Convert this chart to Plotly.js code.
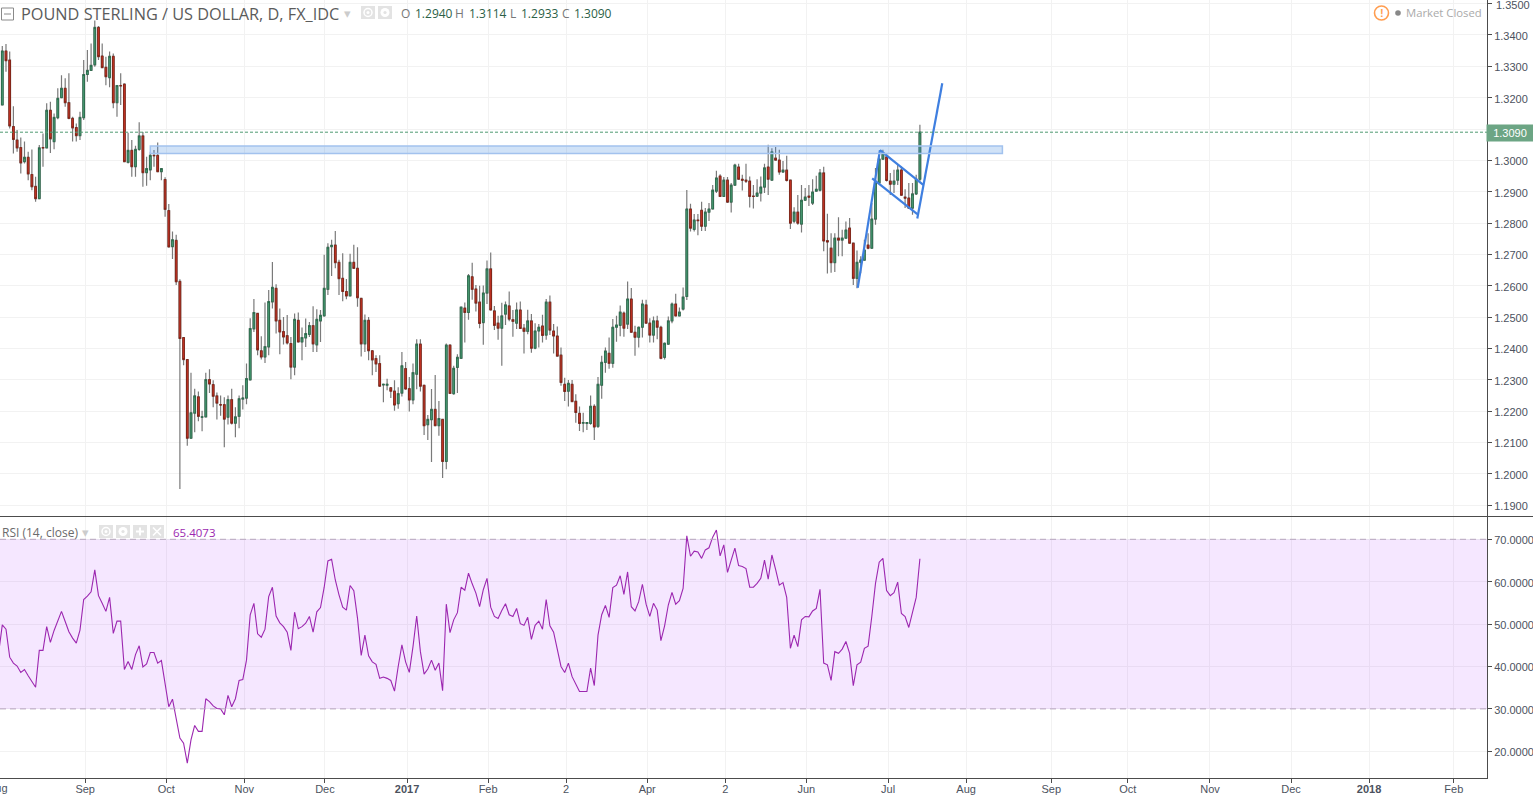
<!DOCTYPE html>
<html>
<head>
<meta charset="utf-8">
<script src="https://cdn.plot.ly/plotly-3.0.1.min.js"></script>
<style>html,body{margin:0;padding:0;background:#fff;overflow:hidden}#chart{width:1533px;height:797px}</style>
</head>
<body>
<div id="chart"></div>
<script>
// Daily GBP/USD bars
var openPrices = [
1.3177,1.3349,1.3320,1.3108,1.3065,1.3041,1.2996,1.3010,1.2955,1.2917,
1.2878,1.3041,1.3040,1.3160,1.3060,1.3136,1.3200,1.3230,1.3184,1.3134,
1.3105,1.3079,1.3136,1.3274,1.3287,1.3305,1.3424,1.3333,1.3297,1.3264,
1.3332,1.3184,1.3239,1.3243,1.2994,1.3032,1.2980,1.3035,1.3078,1.2961,
1.2970,1.3016,1.3016,1.2964,1.2939,1.2840,1.2725,1.2745,1.2614,1.2435,
1.2365,1.2114,1.2194,1.2246,1.2181,1.2182,1.2301,1.2285,1.2249,1.2221,
1.2221,1.2181,1.2237,1.2162,1.2184,1.2239,1.2242,1.2300,1.2463,1.2512,
1.2393,1.2373,1.2405,1.2549,1.2592,1.2490,1.2454,1.2441,1.2416,1.2341,
1.2490,1.2421,1.2434,1.2445,1.2473,1.2412,1.2488,1.2504,1.2589,1.2725,
1.2730,1.2675,1.2624,1.2582,1.2568,1.2675,1.2656,1.2560,1.2415,1.2490,
1.2393,1.2368,1.2352,1.2284,1.2283,1.2275,1.2264,1.2224,1.2258,1.2336,
1.2272,1.2236,1.2318,1.2414,1.2283,1.2157,1.2173,1.2206,1.2154,1.2174,
1.2040,1.2411,1.2256,1.2340,1.2369,1.2529,1.2515,1.2629,1.2590,1.2548,
1.2483,1.2577,1.2654,1.2520,1.2481,1.2465,1.2510,1.2536,1.2492,1.2481,
1.2523,1.2465,1.2455,1.2488,1.2401,1.2456,1.2472,1.2443,1.2548,1.2456,
1.2440,1.2379,1.2286,1.2264,1.2286,1.2232,1.2193,1.2162,1.2161,1.2161,
1.2216,1.2152,1.2283,1.2356,1.2385,1.2353,1.2468,1.2474,1.2513,1.2478,
1.2558,1.2452,1.2436,1.2468,1.2539,1.2481,1.2443,1.2488,1.2468,1.2372,
1.2414,1.2488,1.2542,1.2504,1.2526,1.2566,1.2845,1.2780,1.2810,1.2841,
1.2790,1.2835,1.2845,1.2902,1.2950,1.2885,1.2937,1.2867,1.2921,1.2979,
1.2940,1.2937,1.2934,1.2886,1.2886,1.2896,1.2915,1.2979,1.2937,1.3007,
1.3001,1.2963,1.2969,1.2937,1.2806,1.2835,1.2797,1.2873,1.2886,1.2864,
1.2902,1.2905,1.2960,1.2744,1.2720,1.2674,1.2752,1.2746,1.2752,1.2784,
1.2736,1.2624,1.2675,1.2682,1.2730,1.2720,1.2813,1.2928,1.3004,1.3011,
1.2934,1.2924,1.2937,1.2969,1.2883,1.2880,1.2848,1.2893,1.2940];
var highPrices = [
1.3365,1.3371,1.3347,1.3173,1.3097,1.3073,1.3060,1.3028,1.3035,1.2948,
1.3049,1.3086,1.3182,1.3187,1.3150,1.3230,1.3272,1.3262,1.3278,1.3139,
1.3118,1.3155,1.3320,1.3352,1.3373,1.3446,1.3429,1.3373,1.3331,1.3347,
1.3341,1.3239,1.3278,1.3246,1.3088,1.3065,1.3047,1.3122,1.3091,1.3012,
1.3028,1.3033,1.3057,1.2974,1.2946,1.2861,1.2773,1.2763,1.2621,1.2435,
1.2365,1.2323,1.2272,1.2263,1.2202,1.2323,1.2334,1.2299,1.2260,1.2250,
1.2245,1.2250,1.2272,1.2213,1.2250,1.2283,1.2352,1.2497,1.2558,1.2512,
1.2439,1.2547,1.2587,1.2676,1.2605,1.2528,1.2501,1.2507,1.2437,1.2512,
1.2515,1.2467,1.2496,1.2485,1.2535,1.2525,1.2523,1.2699,1.2736,1.2747,
1.2775,1.2683,1.2704,1.2622,1.2702,1.2731,1.2723,1.2560,1.2509,1.2501,
1.2393,1.2379,1.2379,1.2286,1.2304,1.2275,1.2299,1.2277,1.2389,1.2357,
1.2309,1.2352,1.2430,1.2430,1.2283,1.2188,1.2271,1.2316,1.2233,1.2174,
1.2416,1.2414,1.2345,1.2382,1.2532,1.2547,1.2638,1.2674,1.2603,1.2600,
1.2601,1.2681,1.2706,1.2536,1.2505,1.2546,1.2550,1.2582,1.2523,1.2547,
1.2550,1.2478,1.2524,1.2510,1.2481,1.2478,1.2508,1.2558,1.2569,1.2478,
1.2470,1.2403,1.2307,1.2300,1.2300,1.2254,1.2215,1.2195,1.2164,1.2250,
1.2222,1.2309,1.2377,1.2403,1.2435,1.2494,1.2505,1.2537,1.2518,1.2614,
1.2593,1.2473,1.2470,1.2556,1.2556,1.2497,1.2502,1.2505,1.2473,1.2419,
1.2502,1.2547,1.2575,1.2531,1.2595,1.2906,1.2862,1.2829,1.2829,1.2868,
1.2848,1.2864,1.2922,1.2967,1.2956,1.2947,1.2947,1.2928,1.2989,1.2989,
1.2954,1.2989,1.2949,1.2922,1.2940,1.2949,1.2989,1.3050,1.3039,1.3043,
1.3034,1.2998,1.3015,1.2937,1.2851,1.2890,1.2922,1.2912,1.2922,1.2940,
1.2951,1.2973,1.2980,1.2830,1.2768,1.2768,1.2819,1.2779,1.2805,1.2816,
1.2736,1.2713,1.2694,1.2747,1.2768,1.2864,1.2976,1.3023,1.3034,1.3023,
1.2960,1.2970,1.2986,1.2981,1.2908,1.2928,1.2928,1.2954,1.3114];
var lowPrices = [
1.3177,1.3283,1.3102,1.3022,1.3028,1.2958,1.2990,1.2937,1.2905,1.2868,
1.2878,1.2980,1.3038,1.3024,1.3036,1.3131,1.3198,1.3171,1.3131,1.3060,
1.3060,1.3065,1.3129,1.3251,1.3286,1.3299,1.3320,1.3294,1.3240,1.3233,
1.3166,1.3139,1.3177,1.2996,1.2990,1.2948,1.2948,1.3031,1.2916,1.2919,
1.2937,1.2980,1.2962,1.2937,1.2820,1.2722,1.2686,1.2603,1.1952,1.2347,
1.2090,1.2114,1.2133,1.2168,1.2136,1.2181,1.2258,1.2213,1.2174,1.2186,
1.2085,1.2158,1.2158,1.2117,1.2146,1.2206,1.2222,1.2300,1.2453,1.2379,
1.2365,1.2354,1.2379,1.2528,1.2448,1.2382,1.2413,1.2413,1.2302,1.2315,
1.2421,1.2363,1.2405,1.2437,1.2389,1.2389,1.2421,1.2504,1.2571,1.2631,
1.2656,1.2571,1.2551,1.2557,1.2567,1.2654,1.2533,1.2375,1.2389,1.2363,
1.2315,1.2325,1.2279,1.2229,1.2267,1.2242,1.2202,1.2208,1.2247,1.2269,
1.2199,1.2222,1.2270,1.2263,1.2124,1.2108,1.2038,1.2154,1.2122,1.1987,
1.2015,1.2257,1.2253,1.2258,1.2369,1.2419,1.2492,1.2556,1.2518,1.2465,
1.2412,1.2542,1.2521,1.2459,1.2428,1.2345,1.2475,1.2487,1.2438,1.2462,
1.2464,1.2384,1.2446,1.2387,1.2398,1.2403,1.2419,1.2428,1.2443,1.2384,
1.2376,1.2281,1.2233,1.2215,1.2231,1.2163,1.2137,1.2133,1.2140,1.2157,
1.2108,1.2147,1.2240,1.2323,1.2336,1.2339,1.2422,1.2439,1.2438,1.2462,
1.2451,1.2377,1.2403,1.2435,1.2481,1.2419,1.2419,1.2430,1.2366,1.2365,
1.2412,1.2481,1.2502,1.2502,1.2521,1.2555,1.2773,1.2773,1.2761,1.2775,
1.2775,1.2807,1.2845,1.2896,1.2883,1.2883,1.2864,1.2834,1.2921,1.2938,
1.2904,1.2928,1.2850,1.2847,1.2883,1.2869,1.2896,1.2890,1.2937,1.3000,
1.2954,1.2960,1.2933,1.2781,1.2800,1.2795,1.2770,1.2871,1.2855,1.2858,
1.2901,1.2901,1.2710,1.2639,1.2642,1.2644,1.2694,1.2694,1.2752,1.2736,
1.2603,1.2592,1.2640,1.2680,1.2717,1.2720,1.2795,1.2928,1.3002,1.2933,
1.2890,1.2896,1.2922,1.2887,1.2848,1.2845,1.2827,1.2890,1.2933];
var closePrices = [
1.3349,1.3318,1.3110,1.3067,1.3040,1.2992,1.3010,1.2957,1.2916,1.2878,
1.3040,1.3040,1.3160,1.3069,1.3137,1.3198,1.3230,1.3184,1.3134,1.3104,
1.3079,1.3137,1.3274,1.3287,1.3303,1.3424,1.3331,1.3296,1.3267,1.3332,
1.3184,1.3239,1.3238,1.2996,1.3032,1.2980,1.3035,1.3078,1.2961,1.2974,
1.3016,1.3015,1.2964,1.2974,1.2844,1.2724,1.2747,1.2613,1.2432,1.2365,
1.2114,1.2195,1.2249,1.2184,1.2182,1.2301,1.2287,1.2248,1.2226,1.2220,
1.2175,1.2237,1.2162,1.2182,1.2240,1.2242,1.2304,1.2464,1.2515,1.2396,
1.2373,1.2406,1.2550,1.2595,1.2488,1.2453,1.2437,1.2418,1.2341,1.2493,
1.2421,1.2435,1.2448,1.2473,1.2415,1.2493,1.2506,1.2592,1.2723,1.2729,
1.2674,1.2623,1.2582,1.2568,1.2675,1.2656,1.2562,1.2415,1.2490,1.2393,
1.2364,1.2351,1.2280,1.2286,1.2286,1.2264,1.2220,1.2256,1.2345,1.2271,
1.2236,1.2323,1.2414,1.2280,1.2154,1.2174,1.2206,1.2154,1.2177,1.2040,
1.2411,1.2257,1.2337,1.2372,1.2532,1.2515,1.2632,1.2589,1.2545,1.2480,
1.2577,1.2654,1.2523,1.2474,1.2465,1.2504,1.2539,1.2494,1.2487,1.2523,
1.2464,1.2455,1.2488,1.2401,1.2456,1.2468,1.2442,1.2548,1.2459,1.2440,
1.2376,1.2292,1.2263,1.2289,1.2231,1.2196,1.2161,1.2164,1.2164,1.2216,
1.2150,1.2286,1.2356,1.2392,1.2353,1.2468,1.2475,1.2516,1.2465,1.2558,
1.2452,1.2436,1.2468,1.2542,1.2481,1.2443,1.2488,1.2468,1.2369,1.2417,
1.2488,1.2542,1.2504,1.2516,1.2564,1.2845,1.2784,1.2810,1.2808,1.2790,
1.2835,1.2845,1.2905,1.2944,1.2885,1.2937,1.2867,1.2921,1.2985,1.2940,
1.2937,1.2934,1.2885,1.2885,1.2896,1.2915,1.2976,1.2940,1.3027,1.3001,
1.2963,1.2969,1.2936,1.2800,1.2835,1.2800,1.2873,1.2883,1.2883,1.2899,
1.2908,1.2960,1.2743,1.2740,1.2674,1.2752,1.2746,1.2752,1.2778,1.2736,
1.2624,1.2675,1.2682,1.2714,1.2720,1.2813,1.2928,1.3004,1.3023,1.2936,
1.2924,1.2934,1.2969,1.2889,1.2880,1.2848,1.2893,1.2940,1.3090];

// RSI(14, close); the first value belongs to the bar just left of the view
var rsiValues = [
43.1,49.8,48.8,42.2,40.8,40.1,38.6,39.3,37.8,36.5,35.1,43.8,43.8,49.4,45.7,48.5,51.0,53.0,50.6,48.2,
46.7,45.5,48.6,55.8,56.6,57.6,62.8,56.7,54.9,53.0,56.3,47.8,50.7,50.7,39.3,41.2,39.3,42.8,44.9,39.9,
40.6,43.3,43.3,40.8,41.4,35.6,30.5,32.3,27.4,23.1,21.9,17.2,22.7,26.1,24.7,24.7,32.4,31.7,30.7,30.1,
30.0,28.6,33.2,30.5,32.4,36.7,36.9,41.5,52.2,54.9,47.7,46.9,48.8,56.5,58.7,51.9,50.3,49.4,48.1,43.8,
52.8,48.9,49.4,50.2,51.8,48.1,52.9,53.9,58.7,64.9,65.3,60.4,56.9,54.0,53.3,59.1,57.9,51.4,42.6,47.4,
42.5,41.1,40.5,37.2,37.5,37.2,36.7,34.2,40.0,45.1,41.1,38.6,44.7,51.9,43.5,38.2,39.4,41.5,39.1,40.8,
34.3,54.7,48.0,51.0,52.7,58.7,58.0,62.0,59.5,57.3,54.1,58.1,60.8,54.0,51.8,51.3,53.2,54.8,52.2,51.8,
53.7,50.1,49.7,51.6,46.4,49.7,50.7,48.8,55.8,49.6,48.1,43.9,40.0,38.6,40.8,37.6,35.9,34.1,34.1,34.1,
39.6,35.5,47.4,52.2,54.4,51.6,58.6,59.2,61.4,57.0,62.3,54.1,53.1,55.3,59.4,54.7,51.8,54.9,53.3,46.1,
49.6,54.5,57.5,54.7,55.5,58.4,70.8,66.0,67.2,67.0,65.5,67.5,68.0,70.5,72.2,66.1,68.7,62.2,65.1,67.9,
63.8,63.6,63.1,58.7,58.7,59.6,60.8,65.1,60.6,66.3,62.9,59.2,59.8,56.3,44.3,47.4,44.7,51.0,51.8,51.7,
53.1,53.7,58.2,40.8,40.4,36.7,43.5,43.1,44.1,45.9,43.1,35.5,40.4,41.0,44.3,44.8,51.8,59.6,64.6,65.5,
57.9,56.7,57.4,59.9,52.5,51.8,49.2,52.5,56.3,65.4073];

// Time axis ticks, placed in bar-number units
var timeTicks = [22.4,44.3,65.4,87.2,109.4,131.3,152.4,174.3,195.4,217.3,239.4,260.5,283.5,304.2,326.4,348.3,369.4,392.3];
var timeLabels = ['Sep','Oct','Nov','Dec','<b>2017</b>','Feb','2','Apr','2','Jun','Jul','Aug','Sep','Oct','Nov','Dec','<b>2018</b>','Feb'];
var priceTicks = [1.19,1.20,1.21,1.22,1.23,1.24,1.25,1.26,1.27,1.28,1.29,1.30,1.31,1.32,1.33,1.34,1.35];
var priceLabels = ['1.1900','1.2000','1.2100','1.2200','1.2300','1.2400','1.2500','1.2600','1.2700','1.2800','1.2900','1.3000','','1.3200','1.3300','1.3400',''];
var rsiTicks = [20,30,40,50,60,70];

// Drawn pattern (bar number, price), gaps between the separate strokes
var patternBars =   [231.2,237.2,null,235.1,247.3,null,237.2,248.9,null,247.3,254.05];
var patternPrices = [1.2594,1.3033,null,1.2943,1.2829,null,1.3033,1.2922,null,1.2815,1.3246];
var zoneBars = [40,270.3];
var zonePrices = [1.3022,1.3046];
var lastPrice = 1.3090;

var PW = 1487, PH = 778;
var bars = openPrices.map(function(_, i){ return i; });
var rsiBars = rsiValues.map(function(_, i){ return i - 1; });
var bodyHigh = openPrices.map(function(o, i){ return Math.max(o, closePrices[i]); });
var bodyLow  = openPrices.map(function(o, i){ return Math.min(o, closePrices[i]); });

var GREY = '#7a7a7a';
var traces = [
  {type:'scatter', mode:'lines', x:patternBars, y:patternPrices, xaxis:'x', yaxis:'y', connectgaps:false,
   line:{color:'#3f7fe0', width:2.2}, hoverinfo:'skip', showlegend:false},
  {type:'candlestick', x:bars, open:openPrices, high:highPrices, low:lowPrices, close:closePrices, xaxis:'x', yaxis:'y',
   increasing:{line:{color:GREY, width:1.2}, fillcolor:GREY},
   decreasing:{line:{color:GREY, width:1.2}, fillcolor:GREY},
   whiskerwidth:0, hoverinfo:'skip', showlegend:false},
  {type:'candlestick', x:bars, open:openPrices, high:bodyHigh, low:bodyLow, close:closePrices, xaxis:'x', yaxis:'y',
   increasing:{line:{color:'#276a4a', width:0.9}, fillcolor:'#52a67e'},
   decreasing:{line:{color:'#7f2013', width:0.9}, fillcolor:'#d8392a'},
   whiskerwidth:0, hoverinfo:'skip', showlegend:false},
  {type:'scatter', mode:'lines', x:rsiBars, y:rsiValues, xaxis:'x2', yaxis:'y2',
   line:{color:'#9c27b0', width:1.1}, hoverinfo:'skip', showlegend:false}
];

function px(x){ return x / PW; }
function py(y){ return 1 - y / PH; }
function rectPx(x0,y0,x1,y1,fill,stroke,w){
  return {type:'rect',xref:'paper',yref:'paper',x0:px(x0),x1:px(x1),y0:py(y0),y1:py(y1),
    fillcolor:fill||'rgba(0,0,0,0)',line:{color:stroke||'rgba(0,0,0,0)',width:w||0}};
}
function linePx(x0,y0,x1,y1,c,w){
  return {type:'line',xref:'paper',yref:'paper',x0:px(x0),x1:px(x1),y0:py(y0),y1:py(y1),line:{color:c,width:w||1}};
}
function circlePx(cx,cy,r,fill,stroke,w){
  return {type:'circle',xref:'paper',yref:'paper',x0:px(cx-r),x1:px(cx+r),y0:py(cy+r),y1:py(cy-r),
    fillcolor:fill||'rgba(0,0,0,0)',line:{color:stroke||'rgba(0,0,0,0)',width:w||0}};
}
var ICON = '#e3e3e3';
function eyeIcon(x,y){ return [rectPx(x,y,x+14,y+13,ICON), circlePx(x+7,y+6.5,4,null,'#fff',1.5), circlePx(x+7,y+6.5,1.5,'#fff')]; }
function gearIcon(x,y){ return [rectPx(x,y,x+14,y+13,ICON), circlePx(x+7,y+6.5,4.5,'#fff'), circlePx(x+7,y+6.5,1.6,ICON)]; }
function plusIcon(x,y){ return [rectPx(x,y,x+14,y+13,ICON), linePx(x+7,y+2.5,x+7,y+10.5,'#fff',2), linePx(x+3,y+6.5,x+11,y+6.5,'#fff',2)]; }
function crossIcon(x,y){ return [rectPx(x,y,x+14,y+13,ICON), linePx(x+3,y+2.5,x+11,y+10.5,'#fff',1.6), linePx(x+11,y+2.5,x+3,y+10.5,'#fff',1.6)]; }

var shapes = [
  // overbought / oversold band
  {type:'rect',xref:'x2',yref:'y2',x0:-1,x1:402,y0:30,y1:70,layer:'between',fillcolor:'rgba(152,0,255,0.095)',line:{width:0}},
  {type:'line',xref:'paper',yref:'y2',x0:0,x1:1,y0:70,y1:70,line:{color:'#b7a7bd',width:1,dash:'6px,4px'}},
  {type:'line',xref:'paper',yref:'y2',x0:0,x1:1,y0:30,y1:30,line:{color:'#b7a7bd',width:1,dash:'6px,4px'}},
  // resistance zone
  {type:'rect',xref:'x',yref:'y',x0:zoneBars[0],x1:zoneBars[1],y0:zonePrices[0],y1:zonePrices[1],
   fillcolor:'rgba(66,140,225,0.25)',line:{color:'#a2c2ee',width:1.5}},
  // last price line
  {type:'line',xref:'paper',yref:'y',x0:0,x1:1,y0:lastPrice,y1:lastPrice,line:{color:'#4f9a72',width:1,dash:'3px,2px'}},
  // pane separator
  linePx(0,516.5,1533,516.5,'#4c4c4c',1),
  // collapse icon in the header
  rectPx(1.5,8,13.5,20,null,'#8a8a8a',1),
  linePx(4,14,11,14,'#8a8a8a',1),
  // warning circle and market dot
  circlePx(1381.5,13,7,null,'#ff9d50',1.6),
  circlePx(1398,13,2.8,'#888888')
].concat(eyeIcon(361,6), gearIcon(378,6), eyeIcon(99,525), gearIcon(116,525), plusIcon(133,525), crossIcon(150,525));

var SANS = '"Open Sans", sans-serif';
var ARIAL = '"Liberation Sans", Arial, sans-serif';
function label(text,x,y,size,color,family,anchor,extra){
  var a = {xref:'paper',yref:'paper',x:px(x),y:py(y),text:text,showarrow:false,xanchor:anchor||'left',yanchor:'middle',
    xshift:0,yshift:0,borderpad:0,font:{size:size,color:color,family:family||SANS}};
  if (extra) for (var k in extra) a[k]=extra[k];
  return a;
}
var UP = '#2c5f47', TXT = '#777777';
var annotations = [
  label('POUND STERLING / US DOLLAR, D, FX_IDC',20,14,16.3,'#5b5b5b'),
  label('▾',343,14,13,'#cccccc',ARIAL),
  label('O',400,14,12,TXT), label('1.2940',414,14,12,UP),
  label('H',454,14,12,TXT), label('1.3114',468,14,12,UP),
  label('L',509,14,12,TXT), label('1.2933',520,14,12,UP),
  label('C',561,14,12,TXT), label('1.3090',573,14,12,UP),
  label('!',1381.5,13,11,'#ff9d50',ARIAL,'center',{font:{size:11,color:'#ff9d50',family:ARIAL,weight:700}}),
  label('Market Closed',1405,13,11.3,'#aaaaaa'),
  label('RSI (14, close)',0.5,532,12,'#6b6b6b'),
  label('▾',81,532,13,'#cccccc',ARIAL),
  label('65.4073',172,532,11.5,'#9c27b0'),
  label('Aug',-2.5,788,11,'#4c525e',ARIAL,'center'),
  label('1.3500',1495,4.5,11,'#4c525e',ARIAL),
  label('1.3090',1510,133,11,'#ffffff',ARIAL,'center',{width:46,height:16,bgcolor:'#6ca584',align:'center'})
];

var axisFont = {family:ARIAL,size:11,color:'#4c525e'};
var xRange = [-0.62,401.27];
var GRID = '#f2f2f2';
var layout = {
  width:1533,height:797,paper_bgcolor:'#ffffff',plot_bgcolor:'#ffffff',
  margin:{l:0,r:46,t:0,b:19,pad:0},showlegend:false,hovermode:false,boxgap:0.36,
  xaxis:{domain:[0,1],range:xRange,anchor:'y',showticklabels:false,ticks:'',tickmode:'array',tickvals:timeTicks,
    showgrid:true,gridcolor:GRID,gridwidth:1,zeroline:false,showline:false,rangeslider:{visible:false}},
  xaxis2:{domain:[0,1],range:xRange,anchor:'y2',tickmode:'array',tickvals:timeTicks,ticktext:timeLabels,
    tickfont:axisFont,ticks:'outside',ticklen:4,tickcolor:'#4c4c4c',tickangle:0,ticklabelstandoff:-3,
    showgrid:true,gridcolor:GRID,gridwidth:1,zeroline:false,showline:true,linecolor:'#4c4c4c',linewidth:1},
  yaxis:{domain:[1-516/778,1],range:[1.1866,1.35116],side:'right',anchor:'x',tickmode:'array',tickvals:priceTicks,ticktext:priceLabels,
    tickfont:axisFont,ticks:'outside',ticklen:4,tickcolor:'#4c4c4c',ticklabelshift:1,
    showgrid:true,gridcolor:GRID,zeroline:false,showline:true,linecolor:'#4c4c4c',linewidth:1},
  yaxis2:{domain:[0,1-517/778],range:[13.7,75.26],side:'right',anchor:'x2',tickmode:'array',tickvals:rsiTicks,tickformat:'.4f',
    tickfont:axisFont,ticks:'outside',ticklen:4,tickcolor:'#4c4c4c',ticklabelshift:1,
    showgrid:true,gridcolor:GRID,zeroline:false,showline:true,linecolor:'#4c4c4c',linewidth:1},
  shapes:shapes,annotations:annotations
};
Plotly.newPlot('chart',traces,layout,{displayModeBar:false,responsive:false,staticPlot:true});
</script>
</body>
</html>
